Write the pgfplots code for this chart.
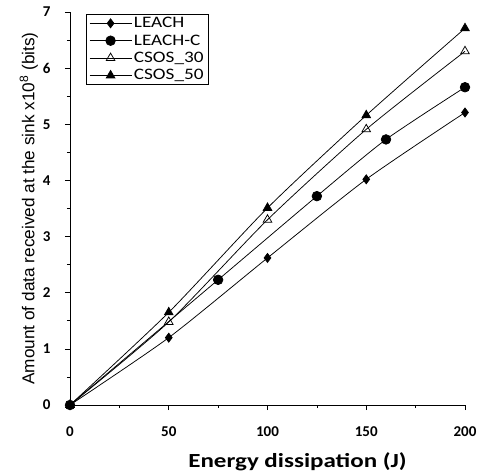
\documentclass[border=0pt]{standalone}
\usepackage{fontspec}
\setmainfont{Carlito}
\newfontfamily\widefont[FakeStretch=1.2]{Carlito}
\newfontfamily\xlabfont[FakeStretch=1.25]{Carlito}
\newfontfamily\labelfont{Liberation Sans}
\usepackage{pgfplots}
\pgfplotsset{compat=1.18}

\begin{document}
\begin{tikzpicture}
\useasboundingbox (-70pt,-66pt) rectangle (416pt,405pt);
\begin{axis}[
    at={(0,0)}, anchor=south west,
    scale only axis,
    width=395pt, height=393pt,
    xmin=0, xmax=200,
    ymin=0, ymax=7,
    axis lines*=left,
    axis line style={line width=0.8pt},
    clip=false,
    tick align=outside,
    xtick={0,50,100,150,200},
    ytick={0,1,2,3,4,5,6,7},
    minor x tick num=1,
    minor y tick num=1,
    major tick length=5pt,
    minor tick length=3pt,
    every tick/.style={black, line width=0.7pt},
    /pgf/number format/assume math mode=true,
    ticklabel style={font=\fontsize{15}{17}\selectfont\bfseries},
    xticklabel style={yshift=-13pt},
    yticklabel style={xshift=-11pt},
    xlabel={Energy dissipation (J)},
    xlabel style={font=\xlabfont\fontsize{20}{22}\selectfont\bfseries, yshift=-9pt, xshift=30pt},
    ylabel={Amount of data received at the sink x10\textsuperscript{8} (bits)},
    ylabel style={font=\labelfont\fontsize{17.2}{19}\selectfont, yshift=-2pt},
    legend style={at={(0.04,0.995)}, anchor=north west, draw=black, line width=0.8pt,
        font=\widefont\fontsize{16}{18}\selectfont, row sep=1.5pt,
        inner xsep=3pt, inner ysep=1pt},
    legend cell align=left,
    legend image code/.code={
        \draw[mark repeat=2, mark phase=2]
        plot coordinates {(0pt,0pt) (21pt,0pt) (42pt,0pt)};
    },
    every axis plot/.append style={black, line width=0.75pt, smooth, tension=0.4},
]

\addplot[mark=diamond*, mark size=4.5pt] coordinates {
    (0,0) (50,1.2) (100,2.62) (150,4.02) (200,5.21)
};
\addlegendentry{LEACH}

\addplot[mark=*, mark size=4.8pt] coordinates {
    (0,0) (75,2.23) (125,3.72) (160,4.73) (200,5.66)
};
\addlegendentry{LEACH-C}

\addplot[mark=triangle, mark size=5pt, mark options={fill=white}] coordinates {
    (0,0) (50,1.48) (100,3.3) (150,4.91) (200,6.3)
};
\addlegendentry{CSOS\_30}

\addplot[mark=triangle*, mark size=5pt] coordinates {
    (0,0) (50,1.65) (100,3.51) (150,5.16) (200,6.71)
};
\addlegendentry{CSOS\_50}

\end{axis}
\end{tikzpicture}
\end{document}
